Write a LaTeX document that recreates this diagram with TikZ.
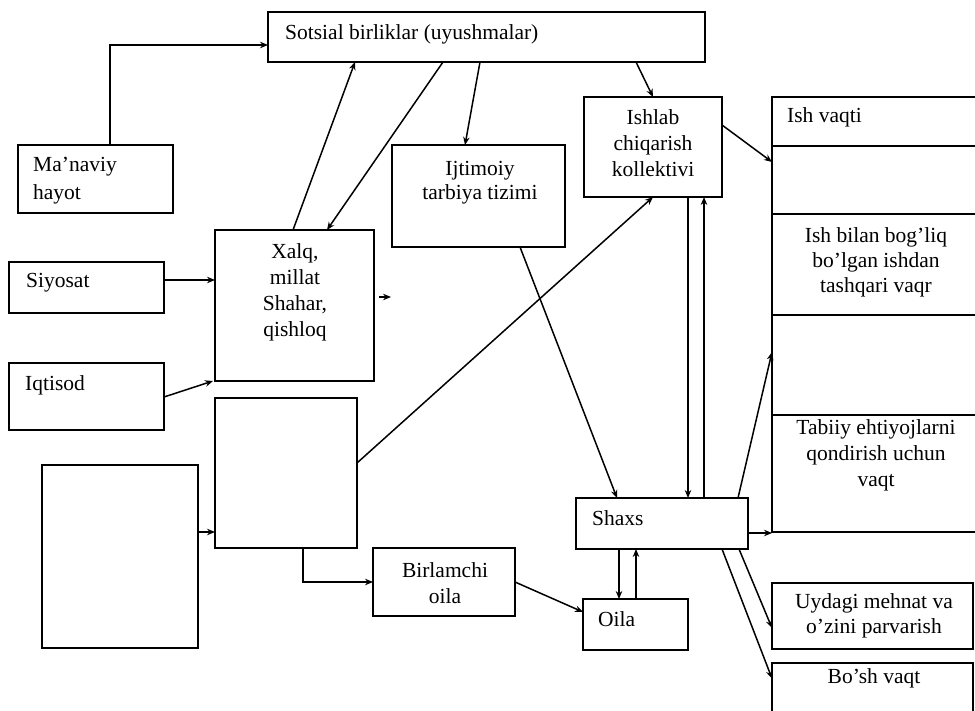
\documentclass[tikz,border=0pt]{standalone}
\usepackage{fontspec}
\setmainfont{Liberation Serif}
\usetikzlibrary{arrows.meta,calc}
\begin{document}
\begin{tikzpicture}[x=1pt,y=-1pt,
  box/.style={draw, line width=1.7pt, inner sep=0pt, outer sep=0pt, anchor=north west},
  txt/.style={inner sep=0pt, font=\fontsize{21.5}{26}\selectfont, align=center},
  conn/.style={line width=1.5pt, -{Stealth[length=8pt,width=6.5pt]}},
  plain/.style={line width=1.5pt}]
\useasboundingbox (0,0) rectangle (975,711);
\fill[white] (0,0) rectangle (975,711);
% boxes
\node[box, minimum width=437, minimum height=50]  (soc)  at (268,12)  {};
\node[box, minimum width=155, minimum height=68]  (ma)   at (18,145)  {};
\node[box, minimum width=155, minimum height=51]  (siy)  at (9,262)   {};
\node[box, minimum width=155, minimum height=67]  (iqt)  at (9,363)   {};
\node[box, minimum width=159, minimum height=151] (xalq) at (215,230) {};
\node[box, minimum width=142, minimum height=150] (bx)   at (215,398) {};
\node[box, minimum width=156, minimum height=183] (lb)   at (42,465)  {};
\node[box, minimum width=142, minimum height=68]  (bir)  at (373,548) {};
\node[box, minimum width=173, minimum height=102] (ijt)  at (392,145) {};
\node[box, minimum width=138, minimum height=100] (ish)  at (584,97)  {};
\node[box, minimum width=210, minimum height=49]  (rc1)  at (772,97)  {};
\node[box, minimum width=210, minimum height=68]  (rc2)  at (772,146) {};
\node[box, minimum width=210, minimum height=101] (rc3)  at (772,214) {};
\node[box, minimum width=210, minimum height=100] (rc4)  at (772,315) {};
\node[box, minimum width=210, minimum height=117] (rc5)  at (772,415) {};
\node[box, minimum width=172, minimum height=51]  (sh)   at (576,498) {};
\node[box, minimum width=105, minimum height=51]  (oila) at (583,599) {};
\node[box, minimum width=201, minimum height=66]  (uyd)  at (772,583) {};
\node[box, minimum width=201, minimum height=70]  (bosh) at (772,663) {};
% texts (multi-line: base = last line baseline)
\node[txt, anchor=base west] (soct) at (285,40) {Sotsial birliklar (uyushmalar)};
\node[txt, anchor=base west, align=left, font=\fontsize{21.5}{28}\selectfont] (mat) at (33,200) {Ma’naviy\\hayot};
\node[txt, anchor=base west] (siyt) at (26,288) {Siyosat};
\node[txt, anchor=base west] (iqtt) at (25,390) {Iqtisod};
\node[txt, anchor=base] (xalqt) at (295,337) {Xalq,\\millat\\Shahar,\\qishloq};
\node[txt, anchor=base, font=\fontsize{21.5}{24}\selectfont] (ijtt) at (480,200) {Ijtimoiy\\tarbiya tizimi};
\node[txt, anchor=base] (isht) at (653,177) {Ishlab\\chiqarish\\kollektivi};
\node[txt, anchor=base west] (rc1t) at (787,123) {Ish vaqti};
\node[txt, anchor=base, font=\fontsize{21.5}{25}\selectfont] (rc3t) at (876,293) {Ish bilan bog’liq\\bo’lgan ishdan\\tashqari vaqr};
\node[txt, anchor=base] (rc5t) at (876,486) {Tabiiy ehtiyojlarni\\qondirish uchun\\vaqt};
\node[txt, anchor=base west] (sht) at (592,525) {Shaxs};
\node[txt, anchor=base west] (oilat) at (598,626) {Oila};
\node[txt, anchor=base] (birt) at (445,603) {Birlamchi\\oila};
\node[txt, anchor=base, font=\fontsize{21.5}{25}\selectfont] (uydt) at (874,633) {Uydagi mehnat va\\o’zini parvarish};
\node[txt, anchor=base] (bosht) at (874,683) {Bo’sh vaqt};
% connectors
\draw[conn] ($(ma.north west)+(92,0)$) |- ($(soc.west)+(0,8)$);
\draw[conn] ($(xalq.north west)+(78,0)$) -- ($(soc.south west)+(87,0)$);
\draw[conn] ($(soc.south west)+(175,0)$) -- ($(xalq.north west)+(112,0)$);
\draw[conn] ($(soc.south west)+(212,0)$) -- ($(ijt.north west)+(73,0)$);
\draw[conn] ($(soc.south west)+(368,0)$) -- (ish.north);
\draw[conn] ($(ish.north east)+(0,28)$) -- ($(rc2.north west)+(0,16)$);
\coordinate (a7) at ($(siy.east)+(0,-7.5)$);
\draw[conn] (a7) -- (a7 -| xalq.west);
\draw[conn] ($(iqt.east)+(0,0.5)$) -- ($(xalq.south west)+(-2,0)$);
\coordinate (s1) at ($(xalq.east)+(5,-8.5)$);
\coordinate (s2) at ($(xalq.east)+(17,-8.5)$);
\draw[conn] (s1) -- (s2);
\draw[conn] ($(bx.east)+(0,-10)$) -- (ish.south);
\coordinate (a11) at ($(lb.east)+(0,-24.5)$);
\draw[conn] (a11) -- (a11 -| bx.west);
\draw[conn] ($(bx.south west)+(88,0)$) |- (bir.west);
\draw[conn] (bir.east) -- ($(oila.west)+(0,-12.5)$);
\draw[conn] ($(ijt.south west)+(128,0)$) -- ($(sh.north west)+(41,0)$);
\coordinate (d1) at ($(ish.south west)+(104,0)$);
\draw[conn] (d1) -- (d1 |- sh.north);
\coordinate (u1) at ($(sh.north west)+(128,0)$);
\draw[conn] (u1) -- (u1 |- ish.south);
\draw[conn] ($(sh.north west)+(162,0)$) -- ($(rc4.west)+(0,-13)$);
\coordinate (a18) at ($(sh.east)+(0,9.5)$);
\draw[conn] (a18) -- (a18 -| rc5.west);
\draw[conn] ($(sh.south west)+(163,0)$) -- ($(uyd.west)+(0,12)$);
\draw[conn] ($(sh.south west)+(146,0)$) -- ($(bosh.west)+(0,-19.5)$);
\coordinate (d2) at ($(sh.south west)+(43,0)$);
\draw[conn] (d2) -- (d2 |- oila.north);
\coordinate (u2) at ($(oila.north west)+(53,0)$);
\draw[conn] (u2) -- (u2 |- sh.south);
\end{tikzpicture}
\end{document}
